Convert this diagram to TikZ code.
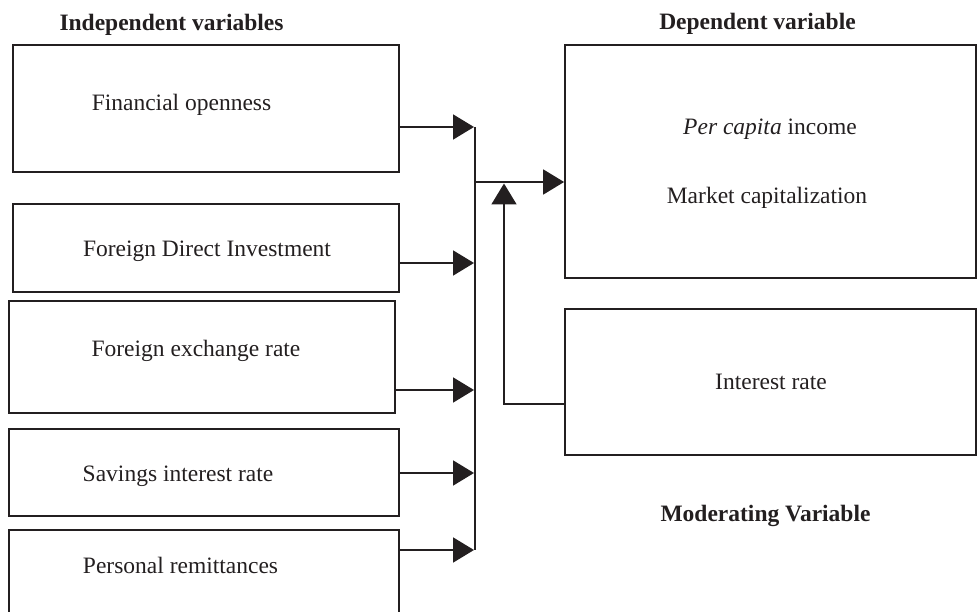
\documentclass[tikz,border=0pt]{standalone}
\usepackage{fontspec}
\setmainfont{Liberation Serif}
\usetikzlibrary{arrows.meta}
\definecolor{ink}{HTML}{231F20}
\begin{document}
\begin{tikzpicture}[x=1pt,y=-1pt,
  box/.style={draw=ink, line width=1.8pt, inner sep=0pt},
  txt/.style={anchor=base, inner sep=0pt, text=ink, font=\fontsize{23.5}{28}\selectfont},
  head/.style={txt, font=\fontsize{23.5}{28}\selectfont\bfseries},
  wire/.style={draw=ink, line width=1.8pt},
  bus/.style={draw=ink, line width=1.3pt},
  arr/.style={wire, -{Triangle[length=21pt,width=25pt]}},
]
\useasboundingbox (0,0) rectangle (978,612);
\clip (0,0) rectangle (978,612);

% headings
\node[head] (hind) at (171.5,30.5) {Independent variables};
\node[head] (hdep) at (757.5,30) {Dependent variable};
\node[head] (hmod) at (765.5,521) {Moderating Variable};

% independent variable boxes
\node[box, minimum width=386pt, minimum height=127pt] (fin) at (206,108.5) {};
\node[box, minimum width=386pt, minimum height=88pt]  (fdi) at (206,248) {};
\node[box, minimum width=386pt, minimum height=112pt] (fx)  at (202,357) {};
\node[box, minimum width=390pt, minimum height=87pt]  (sav) at (204,472.5) {};
\node[box, minimum width=390pt, minimum height=110pt] (per) at (204,585) {};

\node[txt] (tfin) at (181.5,110.7) {Financial openness};
\node[txt] (tfdi) at (207,257) {Foreign Direct Investment};
\node[txt] (tfx)  at (196,357) {Foreign exchange rate};
\node[txt] (tsav) at (178,482) {Savings interest rate};
\node[txt] (tper) at (180.5,573) {Personal remittances};

% dependent and moderating boxes
\node[box, minimum width=411pt, minimum height=233pt] (dep) at (770.5,161.5) {};
\node[box, minimum width=411pt, minimum height=146pt] (int) at (770.5,382) {};

\node[txt] (tpci) at (770,135) {\textit{Per capita} income};
\node[txt] (tmc)  at (767,204) {Market capitalization};
\node[txt] (tint) at (771,390) {Interest rate};

% collecting bus
\coordinate (busT) at (475,127);
\coordinate (busB) at (475,550);
\draw[bus] (busT) -- (busB);

\coordinate (b1) at (474,127);
\coordinate (b2) at (474,263);
\coordinate (b3) at (474,390);
\coordinate (b4) at (474,473);
\coordinate (b5) at (474,550);
\draw[arr] (fin.east |- b1) -- (b1);
\draw[arr] (fdi.east |- b2) -- (b2);
\draw[arr] (fx.east |- b3) -- (b3);
\draw[arr] (sav.east |- b4) -- (b4);
\draw[arr] (per.east |- b5) -- (b5);

% bus to dependent variable
\coordinate (j) at (475,182);
\draw[arr] (j) -- (dep.west |- j);

% moderating link
\coordinate (elb) at (504,404);
\coordinate (m) at (504,183.5);
\draw[arr] (int.west |- elb) -- (elb) -- (m);
\end{tikzpicture}
\end{document}
